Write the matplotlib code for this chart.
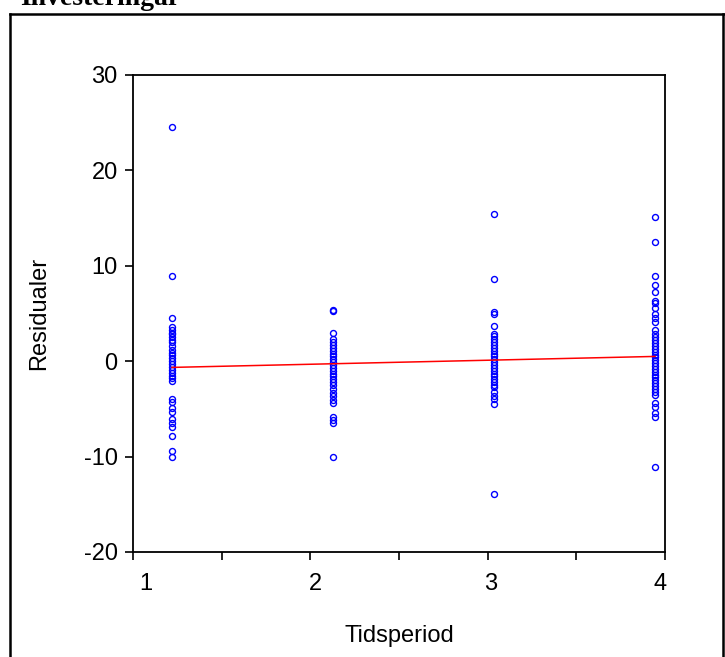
import matplotlib
matplotlib.use("Agg")
import matplotlib.pyplot as plt
from matplotlib.lines import Line2D

# ---- data ----
periods = [1, 2, 3, 4]
resid_p1 = [24.6, 8.9, 4.5, 3.6, 3.3, 3.0, 2.8, 2.5, 2.2, 2.0, 1.6, 1.2, 0.9, 0.6,
            0.3, 0.0, -0.3, -0.6, -0.9, -1.2, -1.5, -1.8, -2.1, -4.0, -4.3, -4.9,
            -5.3, -6.1, -6.5, -6.9, -7.8, -9.4, -10.0]
resid_p2 = [5.4, 5.3, 3.0, 2.3, 2.0, 1.7, 1.4, 1.1, 0.8, 0.5, 0.2, -0.1, -0.4, -0.7,
            -1.0, -1.3, -1.6, -1.9, -2.2, -2.5, -2.9, -3.3, -3.7, -4.1, -4.4, -5.8,
            -6.2, -6.5, -10.0]
resid_p3 = [15.4, 8.6, 5.2, 4.9, 3.7, 2.9, 2.6, 2.3, 2.0, 1.7, 1.4, 1.1, 0.8, 0.5,
            0.2, -0.1, -0.4, -0.7, -1.0, -1.3, -1.6, -1.9, -2.2, -2.5, -2.7, -3.2,
            -3.7, -4.0, -4.5, -13.9]
resid_p4 = [15.1, 12.5, 8.9, 8.0, 7.3, 6.3, 6.1, 5.6, 4.9, 4.5, 4.1, 3.3, 2.8, 2.5,
            2.2, 1.9, 1.6, 1.3, 1.0, 0.7, 0.4, 0.1, -0.2, -0.5, -0.8, -1.1, -1.4,
            -1.7, -2.0, -2.3, -2.6, -2.9, -3.2, -3.5, -4.4, -4.8, -5.4, -5.8, -11.1]
residuals = [resid_p1, resid_p2, resid_p3, resid_p4]

fit_x = [1, 4]
fit_y = [-0.65, 0.5]

yticks = [-20, -10, 0, 10, 20, 30]
xtick_labels = ["1", "2", "3", "4"]
xtick_label_pos = [0.839, 1.888, 2.981, 4.031]
xlim = (0.758, 4.062)

title = "Investeringar"
xlabel = "Tidsperiod"
ylabel = "Residualer"

# ---- figure ----
plt.rcParams['font.family'] = ['Liberation Sans', 'DejaVu Sans']
W, H = 725, 657
fig = plt.figure(figsize=(W / 100, H / 100), dpi=100)
ax = fig.add_axes([133 / W, 1 - 552 / H, 532 / W, 477 / H])

for p, vals in zip(periods, residuals):
    ax.plot([p] * len(vals), vals, linestyle='none', marker='o', markersize=4.3,
            markerfacecolor='none', markeredgecolor='#0000ff', markeredgewidth=1.0)

ax.plot(fit_x, fit_y, color='#ff0000', linewidth=1.1)

ax.set_xlim(*xlim)
ax.set_ylim(-20, 30)
ax.set_yticks(yticks)
ax.set_yticklabels([str(v) for v in yticks])

# labels (no tick marks) and evenly spaced tick marks (no labels)
ax.set_xticks(xtick_label_pos)
ax.set_xticklabels(xtick_labels)
step = (xlim[1] - xlim[0]) / 6
ax.set_xticks([xlim[0] + i * step for i in range(7)], minor=True)
ax.tick_params(axis='x', which='major', length=0, pad=15, labelsize=17)
ax.tick_params(axis='x', which='minor', length=6, width=1.2, direction='out')
ax.tick_params(axis='y', which='major', length=6, width=1.2, direction='out',
               pad=5, labelsize=17)

for s in ax.spines.values():
    s.set_linewidth(1.3)
    s.set_color('black')

ax.set_xlabel(xlabel, fontsize=17, labelpad=22)
ax.set_ylabel(ylabel, fontsize=17, labelpad=24)

# title (cut off at top) and framing border
fig.text(20 / W, 1 - 5 / H, title, family=['Liberation Serif', 'DejaVu Serif'],
         fontweight='bold', fontsize=20, ha='left', va='baseline')
fig.add_artist(Line2D([10 / W, 1.0], [1 - 14 / H, 1 - 14 / H],
                      transform=fig.transFigure, color='black', linewidth=1.8))
fig.add_artist(Line2D([10 / W, 10 / W], [0, 1 - 14 / H],
                      transform=fig.transFigure, color='black', linewidth=1.8))
fig.add_artist(Line2D([723 / W, 723 / W], [0, 1 - 14 / H],
                      transform=fig.transFigure, color='black', linewidth=1.8))

fig.savefig("out.png", dpi=100)
